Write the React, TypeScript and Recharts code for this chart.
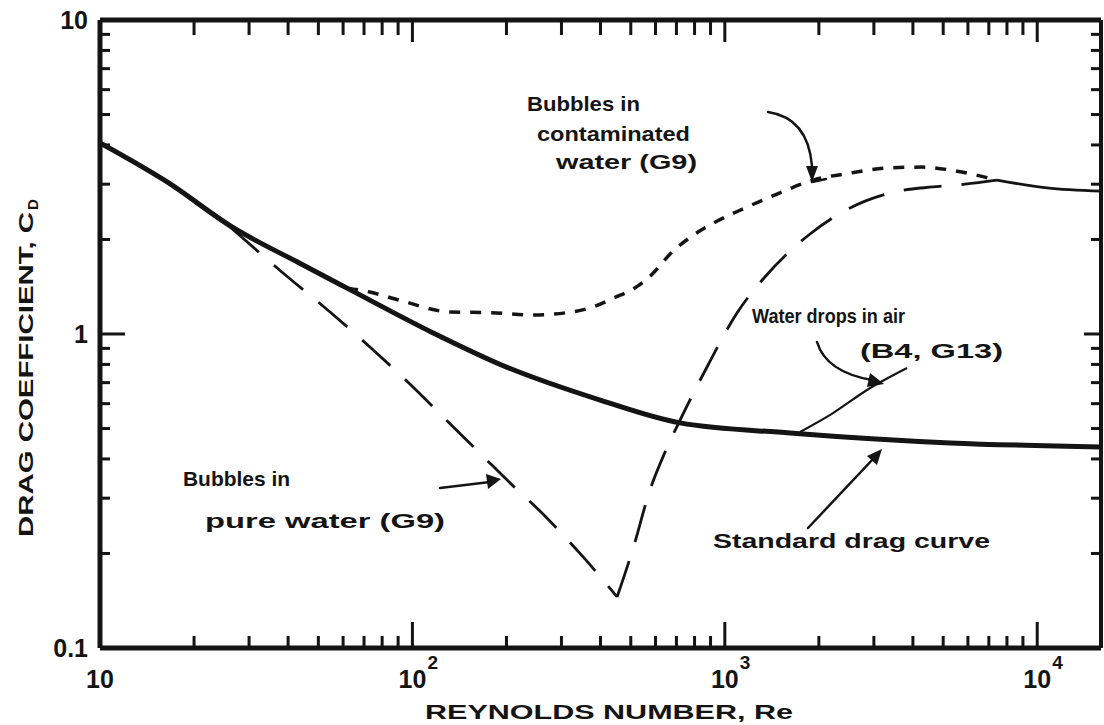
import React from 'react';
import { LineChart, Line, XAxis, YAxis } from 'recharts';

// ---------- axis ticks ----------
const xTicks = [10, 20, 30, 40, 50, 60, 70, 80, 90, 100, 200, 300, 400, 500, 600, 700, 800, 900, 1000, 2000, 3000, 4000, 5000, 6000, 7000, 8000, 9000, 10000];
const yTicks = [0.1, 0.2, 0.3, 0.4, 0.5, 0.6, 0.7, 0.8, 0.9, 1, 2, 3, 4, 5, 6, 7, 8, 9, 10];
const yTickLabels: Record<string, string> = { '0.1': '0.1', '1': '1', '10': '10' };

// ---------- series (Re, Cd) ----------
const standardCurve = [
  { re: 10, cd: 4.06 }, { re: 16.4, cd: 3.05 }, { re: 26.7, cd: 2.18 }, { re: 43.6, cd: 1.68 },
  { re: 61.8, cd: 1.4 }, { re: 116, cd: 1.01 }, { re: 191, cd: 0.8 }, { re: 399, cd: 0.616 },
  { re: 719, cd: 0.521 }, { re: 1617, cd: 0.484 }, { re: 5260, cd: 0.45 }, { re: 16000, cd: 0.437 },
];
const contaminatedBubbles = [
  { re: 61.8, cd: 1.4 }, { re: 73.1, cd: 1.36 }, { re: 91.2, cd: 1.28 }, { re: 132, cd: 1.175 },
  { re: 177, cd: 1.17 }, { re: 243, cd: 1.15 }, { re: 313, cd: 1.17 }, { re: 379, cd: 1.22 },
  { re: 439, cd: 1.3 }, { re: 520, cd: 1.41 }, { re: 585, cd: 1.55 }, { re: 673, cd: 1.81 },
  { re: 785, cd: 2.05 }, { re: 930, cd: 2.27 }, { re: 1161, cd: 2.52 }, { re: 1469, cd: 2.79 },
  { re: 1916, cd: 3.09 }, { re: 2554, cd: 3.26 }, { re: 3330, cd: 3.38 }, { re: 4276, cd: 3.4 },
  { re: 5535, cd: 3.3 }, { re: 6800, cd: 3.16 }, { re: 7433, cd: 3.09 },
];
const pureBubblesFalling = [
  { re: 26.1, cd: 2.19 }, { re: 38.2, cd: 1.576 }, { re: 54.5, cd: 1.175 }, { re: 74.3, cd: 0.896 },
  { re: 100.4, cd: 0.678 }, { re: 130, cd: 0.525 }, { re: 163, cd: 0.421 }, { re: 215, cd: 0.321 },
  { re: 256, cd: 0.273 }, { re: 306, cd: 0.227 }, { re: 352, cd: 0.195 }, { re: 452, cd: 0.1454 },
];
const pureBubblesRising = [
  { re: 452, cd: 0.1454 }, { re: 508, cd: 0.2067 }, { re: 576, cd: 0.3186 }, { re: 644, cd: 0.421 },
  { re: 719, cd: 0.532 }, { re: 877, cd: 0.785 }, { re: 1094, cd: 1.167 }, { re: 1335, cd: 1.508 },
  { re: 1605, cd: 1.824 }, { re: 1874, cd: 2.082 }, { re: 2286, cd: 2.39 }, { re: 2811, cd: 2.65 },
  { re: 3584, cd: 2.85 }, { re: 4640, cd: 2.94 }, { re: 5873, cd: 3.0 }, { re: 7433, cd: 3.09 },
];
const mergedBubbles = [
  { re: 7433, cd: 3.09 }, { re: 10740, cd: 2.92 }, { re: 16000, cd: 2.85 },
];
const waterDropsInAir = [
  { re: 1741, cd: 0.4875 }, { re: 2220, cd: 0.56 }, { re: 2853, cd: 0.6634 }, { re: 3830, cd: 0.779 },
];

const FONT = 'Liberation Sans, Arial, Helvetica, sans-serif';
const INK = '#141414';
const X_DOMAIN: [number, number] = [10, 16000];
const Y_DOMAIN: [number, number] = [0.1, 10];

const isMajor = (v: number) => Math.abs(Math.log10(v) - Math.round(Math.log10(v))) < 1e-6;

const BottomTick = (p: any) => {
  const x = Number(p.x);
  const y = Number(p.y);
  const v = Number(p.payload?.value);
  const major = isMajor(v);
  const e = Math.round(Math.log10(v));
  const len = major ? 26 : 12;
  return (
    <g>
      <rect x={x - 1.5} y={y - len} width={3} height={len} fill={INK} />
      <text x={x} y={y + 40} textAnchor="middle" fontSize={25} fontFamily={FONT} fontWeight="bold" fill={INK}>
        {major ? '10' : ''}
      </text>
      <text x={x + 15} y={y + 21} fontSize={19} fontFamily={FONT} fontWeight="bold" fill={INK}>
        {major && e > 1 ? String(e) : ''}
      </text>
    </g>
  );
};

const TopTick = (p: any) => {
  const x = Number(p.x);
  const y = Number(p.y);
  const len = isMajor(Number(p.payload?.value)) ? 22 : 15;
  return (
    <g>
      <rect x={x - 1.5} y={y} width={3} height={len} fill={INK} />
    </g>
  );
};

const LeftTick = (p: any) => {
  const x = Number(p.x);
  const y = Number(p.y);
  const v = Number(p.payload?.value);
  const major = isMajor(v);
  const label = yTickLabels[String(v)] || '';
  const len = major ? 25 : 10;
  return (
    <g>
      <rect x={x} y={y - 1.5} width={len} height={3} fill={INK} />
      <text x={x - 12} y={y + 9} textAnchor="end" fontFamily={FONT} fontWeight="bold" fontSize={25} fill={INK}>
        {label}
      </text>
    </g>
  );
};

const RightTick = (p: any) => {
  const x = Number(p.x);
  const y = Number(p.y);
  const len = isMajor(Number(p.payload?.value)) ? 17 : 10;
  return (
    <g>
      <rect x={x - len} y={y - 1.5} width={len} height={3} fill={INK} />
    </g>
  );
};

const layer: React.CSSProperties = { position: 'absolute', left: 0, top: 0, width: 1104, height: 725 };

export default function App() {
  return (
    <div style={{ position: 'absolute', left: 0, top: 0, width: 1104, height: 725, background: '#fff' }}>
      {/* bottom layer: the bubble / drop curves (axes hidden, same layout) */}
      <div style={layer}>
        <LineChart width={1104} height={725} margin={{ top: 0, right: 0, bottom: 0, left: 0 }}>
          <XAxis xAxisId="b" dataKey="re" type="number" scale="log" domain={X_DOMAIN} allowDataOverflow ticks={xTicks} height={77} tick={false} tickLine={false} axisLine={false} />
          <XAxis xAxisId="t" orientation="top" dataKey="re" type="number" scale="log" domain={X_DOMAIN} allowDataOverflow ticks={xTicks} height={20} tick={false} tickLine={false} axisLine={false} />
          <YAxis yAxisId="l" dataKey="cd" type="number" scale="log" domain={Y_DOMAIN} allowDataOverflow ticks={yTicks} width={100} tick={false} tickLine={false} axisLine={false} />
          <YAxis yAxisId="r" orientation="right" dataKey="cd" type="number" scale="log" domain={Y_DOMAIN} allowDataOverflow ticks={yTicks} width={3} tick={false} tickLine={false} axisLine={false} />
          <Line xAxisId="b" yAxisId="l" data={contaminatedBubbles} dataKey="cd" type="monotone" stroke={INK} strokeWidth={3.5} strokeDasharray="11 10" dot={false} isAnimationActive={false} />
          <Line xAxisId="b" yAxisId="l" data={pureBubblesFalling} dataKey="cd" type="monotone" stroke={INK} strokeWidth={2.8} strokeDasharray="38 20" dot={false} isAnimationActive={false} />
          <Line xAxisId="b" yAxisId="l" data={pureBubblesRising} dataKey="cd" type="monotone" stroke={INK} strokeWidth={2.8} strokeDasharray="38 20" dot={false} isAnimationActive={false} />
          <Line xAxisId="b" yAxisId="l" data={waterDropsInAir} dataKey="cd" type="monotone" stroke={INK} strokeWidth={2.2} dot={false} isAnimationActive={false} />
        </LineChart>
      </div>

      {/* middle layer: annotations */}
      <svg width={1104} height={725} style={{ position: 'absolute', left: 0, top: 0, pointerEvents: 'none' }}>
        <g fontFamily={FONT} fontWeight="bold" fontSize={21} fill={INK}>
          <text x={527} y={111} textLength={113} lengthAdjust="spacingAndGlyphs">Bubbles in</text>
          <text x={537} y={141} textLength={153} lengthAdjust="spacingAndGlyphs">contaminated</text>
          <text x={556} y={169} textLength={141} lengthAdjust="spacingAndGlyphs">water (G9)</text>
          <text x={752} y={323} textLength={153} lengthAdjust="spacingAndGlyphs">Water drops in air</text>
          <text x={860} y={358} textLength={143} lengthAdjust="spacingAndGlyphs">(B4, G13)</text>
          <text x={183} y={486} textLength={107} lengthAdjust="spacingAndGlyphs">Bubbles in</text>
          <text x={205} y={528} textLength={240} lengthAdjust="spacingAndGlyphs">pure water (G9)</text>
          <text x={713} y={548} textLength={277} lengthAdjust="spacingAndGlyphs">Standard drag curve</text>
          <text x={425} y={719} textLength={368} lengthAdjust="spacingAndGlyphs" fontSize={20}>REYNOLDS NUMBER, Re</text>
          <text transform="rotate(-90)" x={-537} y={33} textLength={325} lengthAdjust="spacingAndGlyphs" fontSize={20}>
            DRAG COEFFICIENT, C
          </text>
          <text transform="rotate(-90)" x={-210} y={38} fontSize={15}>D</text>
        </g>
        <g stroke={INK} fill="none" strokeWidth={2.5} strokeLinecap="round">
          <path d="M 768 112 Q 808 118 812 166" />
          <line x1={812} y1={182} x2={826} y2={179} />
          <path d="M 817 342 Q 826 372 872 380" />
          <line x1={440} y1={488} x2={490} y2={482} />
          <line x1={808} y1={528} x2={874} y2={458} />
        </g>
        <g fill={INK} stroke="none">
          <polygon points="806,166 818,166 812,182" />
          <polygon points="870,373 884,384 867,387" />
          <polygon points="486,474 501,479 488,489" />
          <polygon points="867,456 882,449 877,465" />
        </g>
      </svg>

      {/* top layer: frame, ticks, labels, standard curve and merged tail */}
      <div style={layer}>
        <LineChart width={1104} height={725} margin={{ top: 0, right: 0, bottom: 0, left: 0 }}>
          <XAxis
            xAxisId="b" dataKey="re" type="number" scale="log" domain={X_DOMAIN} allowDataOverflow
            ticks={xTicks} interval={0} height={77} tickSize={0} tickMargin={0} tickLine={false}
            axisLine={{ stroke: INK, strokeWidth: 5 }} tick={(p: any) => <BottomTick {...p} />}
          />
          <XAxis
            xAxisId="t" orientation="top" dataKey="re" type="number" scale="log" domain={X_DOMAIN} allowDataOverflow
            ticks={xTicks} interval={0} height={20} tickSize={0} tickMargin={0} tickLine={false}
            axisLine={{ stroke: INK, strokeWidth: 5 }} tick={(p: any) => <TopTick {...p} />}
          />
          <YAxis
            yAxisId="l" dataKey="cd" type="number" scale="log" domain={Y_DOMAIN} allowDataOverflow
            ticks={yTicks} interval={0} width={100} tickSize={0} tickMargin={0} tickLine={false}
            axisLine={{ stroke: INK, strokeWidth: 5 }} tick={(p: any) => <LeftTick {...p} />}
          />
          <YAxis
            yAxisId="r" orientation="right" dataKey="cd" type="number" scale="log" domain={Y_DOMAIN} allowDataOverflow
            ticks={yTicks} interval={0} width={3} tickSize={0} tickMargin={0} tickLine={false}
            axisLine={{ stroke: INK, strokeWidth: 4 }} tick={(p: any) => <RightTick {...p} />}
          />
          <Line xAxisId="b" yAxisId="l" data={standardCurve} dataKey="cd" type="monotone" stroke={INK} strokeWidth={5} dot={false} isAnimationActive={false} />
          <Line xAxisId="b" yAxisId="l" data={mergedBubbles} dataKey="cd" type="monotone" stroke={INK} strokeWidth={2.8} dot={false} isAnimationActive={false} />
        </LineChart>
      </div>
    </div>
  );
}
